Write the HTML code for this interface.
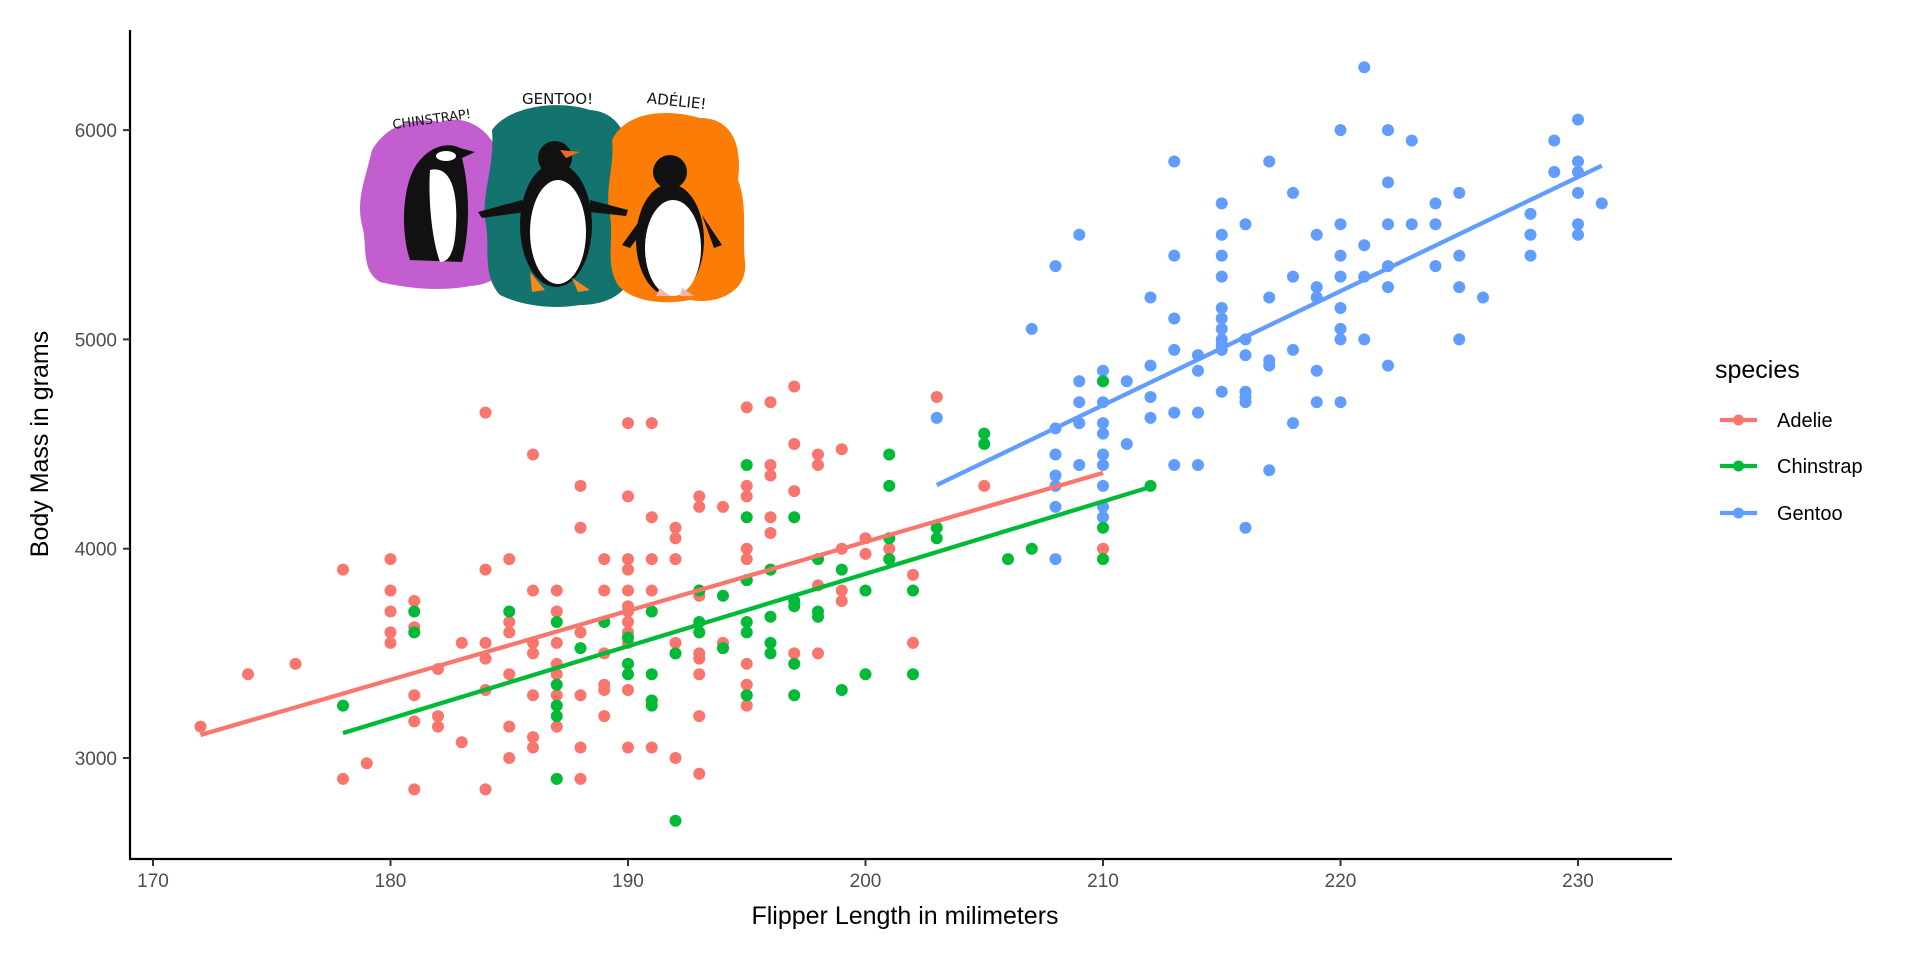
<!DOCTYPE html>
<html><head><meta charset="utf-8"><style>
html,body{margin:0;padding:0;background:#fff;width:1920px;height:960px;overflow:hidden}
svg{display:block}
text{font-family:"Liberation Sans",Arial,sans-serif}
</style></head><body>
<svg id="s" width="1920" height="960" viewBox="0 0 1920 960" xmlns="http://www.w3.org/2000/svg">
<!-- penguin illustration -->
<g>
<path d="M372,150 C390,120 420,118 440,122 C470,112 495,135 500,160 C515,185 505,210 512,235 C520,260 500,285 470,286 C440,292 405,288 380,282 C360,270 368,245 362,225 C356,200 365,180 372,150Z" fill="#c25ecf"/>
<path d="M492,130 C510,105 560,100 590,110 C620,112 632,140 628,170 C636,200 625,230 632,260 C636,290 610,305 580,305 C550,310 520,305 500,295 C482,275 490,250 486,225 C480,195 495,170 492,130Z" fill="#12736f"/>
<path d="M612,140 C625,112 665,108 700,118 C735,118 742,150 738,180 C748,205 742,235 745,262 C748,290 720,305 690,300 C660,306 630,300 618,285 C605,265 614,240 610,215 C604,190 615,165 612,140Z" fill="#fb7d08"/>
<!-- chinstrap -->
<path d="M410,260 C400,230 402,180 420,160 C432,146 448,142 460,148 L475,152 L462,158 C470,190 470,230 462,262 Z" fill="#111"/>
<path d="M430,170 C450,165 458,190 456,225 C455,250 450,262 440,262 C432,240 428,200 430,170Z" fill="#fff"/>
<ellipse cx="446" cy="156" rx="10" ry="5" fill="#fff"/>
<!-- gentoo -->
<ellipse cx="556" cy="225" rx="36" ry="62" fill="#111"/>
<ellipse cx="558" cy="232" rx="28" ry="52" fill="#fff"/>
<path d="M522,200 L478,212 L482,218 L525,212Z" fill="#111"/>
<path d="M590,200 L628,210 L626,216 L590,212Z" fill="#111"/>
<circle cx="555" cy="158" r="17" fill="#111"/>
<path d="M560,150 L580,152 L566,158Z" fill="#f26a1b"/>
<path d="M530,272 L545,290 L532,292Z M572,278 L590,290 L578,292Z" fill="#f7891a"/>
<!-- adelie -->
<ellipse cx="670" cy="240" rx="34" ry="56" fill="#111"/>
<ellipse cx="673" cy="248" rx="28" ry="48" fill="#fff"/>
<circle cx="670" cy="172" r="17" fill="#111"/>
<path d="M640,220 L622,245 L630,248 L645,228Z M702,215 L722,245 L714,248 Z" fill="#111"/>
<path d="M660,288 L670,296 L656,296Z M682,288 L694,296 L680,296Z" fill="#f5b5b0"/>
<text x="392" y="124" font-size="13" transform="rotate(-8 428 118)" fill="#111" style="font-family:'DejaVu Sans',sans-serif">CHINSTRAP!</text>
<text x="522" y="104" font-size="15" fill="#111" style="font-family:'DejaVu Sans',sans-serif">GENTOO!</text>
<text x="647" y="106" font-size="15" transform="rotate(6 675 100)" fill="#111" style="font-family:'DejaVu Sans',sans-serif">ADÉLIE!</text>
</g>
<g id="pts"></g>
<g id="lines" stroke-width="4.3" stroke-linecap="butt"></g>
<!-- axes -->
<line x1="130" y1="30" x2="130" y2="860" stroke="#000" stroke-width="2.2"/>
<line x1="129" y1="859" x2="1672" y2="859" stroke="#000" stroke-width="2.2"/>
<g id="ax" stroke="#333" stroke-width="2" fill="#4d4d4d" font-size="19"></g>
<text x="905" y="924" font-size="25" text-anchor="middle" fill="#000">Flipper Length in milimeters</text>
<text transform="translate(48 444) rotate(-90)" font-size="25" text-anchor="middle" fill="#000">Body Mass in grams</text>
<!-- legend -->
<text x="1715" y="378" font-size="25" fill="#000">species</text>
<g stroke-width="4.3">
<line x1="1720" y1="420" x2="1757" y2="420" stroke="#F8766D"/><circle cx="1738.5" cy="420" r="5.5" fill="#F8766D"/>
<line x1="1720" y1="466" x2="1757" y2="466" stroke="#00BA38"/><circle cx="1738.5" cy="466" r="5.5" fill="#00BA38"/>
<line x1="1720" y1="513" x2="1757" y2="513" stroke="#619CFF"/><circle cx="1738.5" cy="513" r="5.5" fill="#619CFF"/>
</g>
<text x="1777" y="427" font-size="20" fill="#000">Adelie</text>
<text x="1777" y="473" font-size="20" fill="#000">Chinstrap</text>
<text x="1777" y="520" font-size="20" fill="#000">Gentoo</text>
</svg>
<script>
function X(f){return 153+(f-170)*23.75}
function Y(m){return 758-(m-3000)*0.2093}
var A={172:[3150],174:[3400],176:[3450],178:[3900,2900],179:[2975],180:[3950,3800,3700,3600,3550],181:[3750,3625,3300,3175,2850],182:[3425,3200,3150],183:[3550,3075],184:[4650,3900,3550,3475,3325,2850],185:[3950,3650,3600,3400,3150,3000],186:[4450,3800,3550,3500,3300,3100,3050],187:[3800,3700,3550,3450,3400,3300,3150,2900],188:[4300,4100,3600,3300,3050,2900],189:[3950,3800,3500,3350,3325,3200],190:[4600,4250,3950,3900,3800,3725,3700,3650,3600,3550,3450,3325,3050],191:[4600,4150,3950,3800,3700,3275,3050],192:[4100,4050,3950,3550,3500,3000],193:[4250,4200,3800,3775,3600,3500,3475,3400,3200,2925],194:[4200,3550,3525],195:[4675,4300,4250,4000,3950,3850,3450,3350,3300,3250],196:[4700,4400,4350,4150,4075,3900],197:[4775,4500,4275,3500,3450],198:[4450,4400,3825,3500],199:[4475,4000,3800,3750],200:[4050,3975],201:[4000,3950],202:[3875,3550],203:[4725],205:[4300],210:[4000]};
var C={178:[3250],181:[3700,3600],185:[3700],187:[3650,3350,3250,3200,2900],188:[3525],189:[3650],190:[3575,3450,3400],191:[3700,3400,3275,3250],192:[3500,2700],193:[3800,3650,3600],194:[3775,3525],195:[4400,4150,3850,3650,3600,3300],196:[3900,3675,3550,3500],197:[4150,3750,3725,3450,3300],198:[3950,3700,3675],199:[3900,3325],200:[3800,3400],201:[4450,4300,4050,3950],202:[3800,3400],203:[4100,4050],205:[4550,4500],206:[3950],207:[4000],210:[4800,4100,3950],212:[4300]};
var G={203:[4625],207:[5050],208:[5350,4575,4450,4350,4300,4200,3950],209:[5500,4800,4700,4600,4400],210:[4850,4800,4700,4600,4550,4450,4400,4300,4200,4150],211:[4800,4500],212:[5200,4875,4725,4625],213:[5850,5400,5100,4950,4650,4400],214:[4925,4850,4650,4400],215:[5650,5500,5400,5300,5150,5100,5050,5000,4975,4950,4750],216:[5550,5000,4925,4750,4725,4700,4100],217:[5850,5200,4900,4875,4375],218:[5700,5300,4950,4600],219:[5500,5250,5200,4850,4700],220:[6000,5550,5400,5300,5150,5050,5000,4700],221:[6300,5450,5300,5000],222:[6000,5750,5550,5350,5250,4875],223:[5950,5550],224:[5650,5550,5350],225:[5700,5400,5250,5000],226:[5200],228:[5600,5500,5400],229:[5950,5800],230:[6050,5850,5800,5700,5550,5500],231:[5650]};
var NS="http://www.w3.org/2000/svg",pts=document.getElementById('pts');
function add(d,c){for(var f in d){d[f].forEach(function(m){var e=document.createElementNS(NS,'circle');e.setAttribute('cx',X(+f));e.setAttribute('cy',Y(m));e.setAttribute('r',6);e.setAttribute('fill',c);pts.appendChild(e);});}}
add(A,'#F8766D');add(G,'#619CFF');add(C,'#00BA38');
var L=document.getElementById('lines');
[[172,3110,210,4362,'#F8766D'],[178,3119,212,4295,'#00BA38'],[203,4304,231,5830,'#619CFF']].forEach(function(a){var e=document.createElementNS(NS,'line');e.setAttribute('x1',X(a[0]));e.setAttribute('y1',Y(a[1]));e.setAttribute('x2',X(a[2]));e.setAttribute('y2',Y(a[3]));e.setAttribute('stroke',a[4]);L.appendChild(e);});
var ax=document.getElementById('ax'),h='';
for(var f=170;f<=230;f+=10){h+='<line x1="'+X(f)+'" y1="859" x2="'+X(f)+'" y2="866"/><text stroke="none" x="'+X(f)+'" y="887" text-anchor="middle">'+f+'</text>';}
for(var m=3000;m<=6000;m+=1000){h+='<line x1="123" y1="'+Y(m)+'" x2="130" y2="'+Y(m)+'"/><text stroke="none" x="117" y="'+(Y(m)+7)+'" text-anchor="end">'+m+'</text>';}
ax.innerHTML=h;
</script>
</body></html>
